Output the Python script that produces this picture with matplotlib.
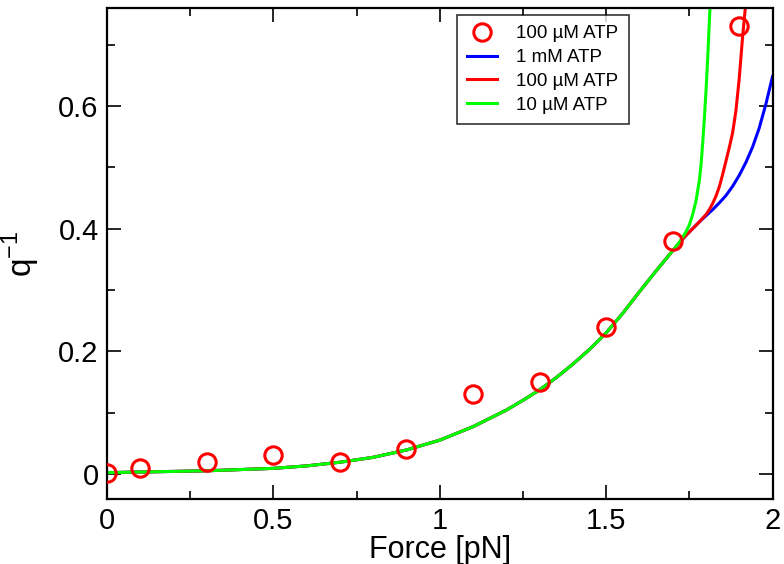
import matplotlib
matplotlib.use("Agg")
import matplotlib.pyplot as plt
from matplotlib.ticker import MultipleLocator

plt.rcParams['font.family'] = ['Liberation Sans', 'DejaVu Sans']

# --- measured data (100 uM ATP) ---
force_data = [0.0, 0.1, 0.3, 0.5, 0.7, 0.9, 1.1, 1.3, 1.5, 1.7, 1.9]
qinv_data = [0.002, 0.01, 0.02, 0.03, 0.02, 0.04, 0.13, 0.15, 0.24, 0.38, 0.73]

# --- model curves, shared low-force part ---
force_common = [0.0, 0.1, 0.2, 0.3, 0.4, 0.5, 0.6, 0.7, 0.8, 0.9, 1.0, 1.1,
                1.2, 1.25, 1.3, 1.35, 1.4, 1.45, 1.5, 1.55, 1.6, 1.65, 1.7]
qinv_common = [0.002, 0.003, 0.004, 0.005, 0.007, 0.009, 0.013, 0.019, 0.027,
               0.039, 0.055, 0.077, 0.104, 0.12, 0.137, 0.157, 0.179, 0.203,
               0.230, 0.262, 0.297, 0.331, 0.364]

# high-force tails
force_1mM = [1.72, 1.74, 1.76, 1.78, 1.80, 1.82, 1.84, 1.86, 1.88, 1.90,
             1.92, 1.94, 1.96, 1.98, 2.0]
qinv_1mM = [0.377, 0.389, 0.400, 0.411, 0.421, 0.431, 0.442, 0.454, 0.469,
            0.487, 0.508, 0.533, 0.564, 0.603, 0.648]

force_100uM = [1.72, 1.74, 1.76, 1.78, 1.80, 1.81, 1.82, 1.83, 1.84, 1.85,
               1.86, 1.87, 1.88, 1.89, 1.90, 1.91, 1.92, 1.93]
qinv_100uM = [0.377, 0.389, 0.400, 0.411, 0.423, 0.431, 0.441, 0.453, 0.468,
              0.488, 0.510, 0.532, 0.556, 0.592, 0.645, 0.712, 0.77, 0.83]

force_10uM = [1.72, 1.73, 1.74, 1.75, 1.76, 1.77, 1.78, 1.785, 1.79, 1.795,
              1.80, 1.805, 1.81, 1.815]
qinv_10uM = [0.378, 0.386, 0.395, 0.406, 0.423, 0.445, 0.478, 0.503, 0.538,
             0.578, 0.623, 0.675, 0.735, 0.80]

fig = plt.figure(figsize=(7.84, 5.64), dpi=100)
ax = fig.add_axes([107/784, 1 - 499/564, (772.5 - 107)/784, (499 - 8)/564])

lw = 2.2
ax.plot(force_data, qinv_data, 'o', mfc='none', mec='red', mew=2.2, ms=12.5,
        label='100 \u00b5M ATP', zorder=5)
ax.plot(force_common + force_1mM, qinv_common + qinv_1mM, color='#0000ff', lw=lw,
        label='1 mM ATP')
ax.plot(force_common + force_100uM, qinv_common + qinv_100uM, color='#ff0000', lw=lw,
        label='100 \u00b5M ATP')
ax.plot(force_common + force_10uM, qinv_common + qinv_10uM, color='#00ff00', lw=lw,
        label='10 \u00b5M ATP')

ax.set_xlim(0, 2)
ax.set_ylim(-0.041, 0.76)
ax.xaxis.set_major_locator(MultipleLocator(0.5))
ax.xaxis.set_minor_locator(MultipleLocator(0.25))
ax.yaxis.set_major_locator(MultipleLocator(0.2))
ax.yaxis.set_minor_locator(MultipleLocator(0.1))
ax.xaxis.set_major_formatter(plt.FuncFormatter(lambda v, p: f"{v:g}"))
ax.yaxis.set_major_formatter(plt.FuncFormatter(lambda v, p: f"{v:g}"))

ax.tick_params(which='both', direction='in', top=True, right=True,
               labelsize=21, width=1.2, pad=6)
ax.tick_params(which='major', length=10)
ax.tick_params(which='minor', length=5.5)
for s in ax.spines.values():
    s.set_linewidth(1.6)

ax.set_xlabel('Force [pN]', fontsize=22, labelpad=0)
ax.set_ylabel('q$^{\\mathregular{-1}}$', fontsize=24, labelpad=12)

leg = ax.legend(loc='upper left', bbox_to_anchor=((457 - 107)/665.5, (499 - 15)/491),
                borderaxespad=0, fontsize=13.5, numpoints=1, handlelength=1.6,
                labelspacing=0.35, fancybox=False, frameon=True, borderpad=0.55,
                handletextpad=1.0)
leg.get_frame().set_edgecolor('black')
leg.get_frame().set_linewidth(1.2)

fig.savefig('out.png', dpi=100)
